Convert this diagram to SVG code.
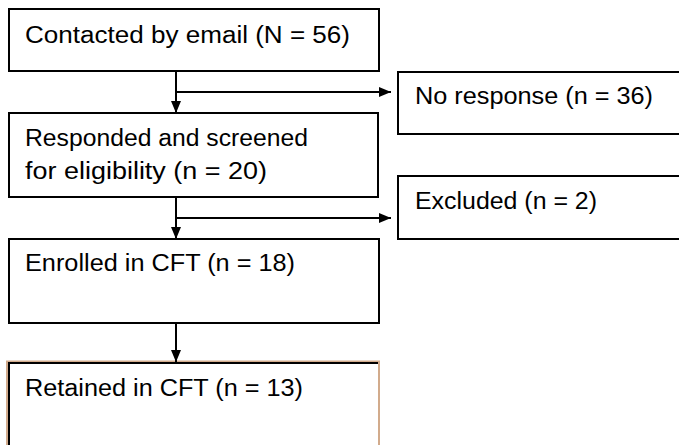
<svg xmlns="http://www.w3.org/2000/svg" width="679" height="445" viewBox="0 0 679 445">
<style>
.box{fill:#fff;stroke:#000;stroke-width:2}
.t{font-family:"Liberation Sans",Arial,sans-serif;font-size:23px;fill:#000}
.c{stroke:#000;stroke-width:2;fill:none}
</style>
<defs>
<marker id="ah" viewBox="0 0 12 10" refX="12" refY="5" markerWidth="12" markerHeight="10" markerUnits="userSpaceOnUse" orient="auto">
<path d="M0,0 L12,5 L0,10 Z" fill="#000"/>
</marker>
</defs>
<rect width="679" height="445" fill="#fff"/>
<g id="n1">
<rect class="box" x="9" y="9" width="370" height="62"/>
<text class="t" x="25" y="43" textLength="325" lengthAdjust="spacingAndGlyphs">Contacted by email (N = 56)</text>
</g>
<g id="n2">
<rect class="box" x="398" y="72" width="300" height="62"/>
<text class="t" x="415" y="104" textLength="238" lengthAdjust="spacingAndGlyphs">No response (n = 36)</text>
</g>
<g id="n3">
<rect class="box" x="9" y="113" width="369" height="84"/>
<text class="t" x="25" y="146" textLength="283" lengthAdjust="spacingAndGlyphs">Responded and screened</text>
<text class="t" x="25" y="179" textLength="242" lengthAdjust="spacingAndGlyphs">for eligibility (n = 20)</text>
</g>
<g id="n4">
<rect class="box" x="398" y="176" width="300" height="63"/>
<text class="t" x="415" y="209" textLength="182" lengthAdjust="spacingAndGlyphs">Excluded (n = 2)</text>
</g>
<g id="n5">
<rect class="box" x="9" y="239" width="370" height="84"/>
<text class="t" x="25" y="271" textLength="270" lengthAdjust="spacingAndGlyphs">Enrolled in CFT (n = 18)</text>
</g>
<g id="n6">
<rect x="7" y="361.5" width="372" height="100" fill="#fff" stroke="#d2ab8c" stroke-width="2"/>
<path d="M9,460 L9,363 L378,363" fill="none" stroke="#000" stroke-width="2"/>
<text class="t" x="25" y="396" textLength="278" lengthAdjust="spacingAndGlyphs">Retained in CFT (n = 13)</text>
</g>
<g id="connectors">
<line class="c" x1="176" y1="71" x2="176" y2="113" marker-end="url(#ah)"/>
<line class="c" x1="176" y1="92" x2="391" y2="92" marker-end="url(#ah)"/>
<line class="c" x1="176" y1="197" x2="176" y2="239" marker-end="url(#ah)"/>
<line class="c" x1="176" y1="218" x2="391" y2="218" marker-end="url(#ah)"/>
<line class="c" x1="176" y1="323" x2="176" y2="362" marker-end="url(#ah)"/>
</g>
</svg>
